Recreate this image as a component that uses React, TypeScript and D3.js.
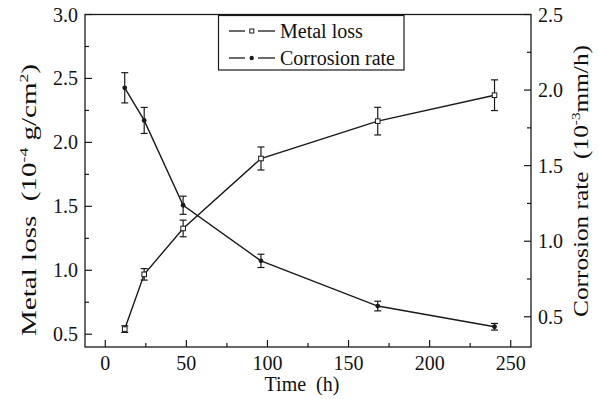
import React from "react";
import * as d3 from "d3";

const times = [12, 24, 48, 96, 168, 240];
const metalLoss = [0.54, 0.968, 1.327, 1.874, 2.166, 2.369];
const metalLossErr = [0.026, 0.045, 0.065, 0.09, 0.108, 0.12];
const corrosionRate = [2.015, 1.799, 1.238, 0.87, 0.571, 0.434];
const corrosionErr = [0.1, 0.086, 0.06, 0.044, 0.032, 0.022];

const xTicks = [0, 50, 100, 150, 200, 250];
const xMinor = [25, 75, 125, 175, 225];
const leftTicks = [0.5, 1.0, 1.5, 2.0, 2.5, 3.0];
const leftMinor = [0.75, 1.25, 1.75, 2.25, 2.75];
const rightTicks = [0.5, 1.0, 1.5, 2.0, 2.5];
const rightMinor = [0.75, 1.25, 1.75, 2.25];
const legendLabels = ["Metal loss", "Corrosion rate"];

const FONT = "'Liberation Serif', 'Times New Roman', serif";

export default function App() {
  const W = 599, H = 399;
  const L = 85, R = 531, T = 14.5, B = 347;
  const x = d3.scaleLinear().domain([-12.5, 262.5]).range([L, R]);
  const yL = d3.scaleLinear().domain([0.4, 3.0]).range([B, T]);
  const yR = d3.scaleLinear().domain([0.3, 2.5]).range([B, T]);

  const lineL = d3.line<number>().x((_, i) => x(times[i])).y((d) => yL(d));
  const lineR = d3.line<number>().x((_, i) => x(times[i])).y((d) => yR(d));

  const stroke = "#1a1a1a";
  const cap = 3.5;
  const fs = 20;

  return (
    <svg width={W} height={H} style={{ position: "absolute", left: 0, top: 0, background: "#fff" }} fontFamily={FONT}>
      <rect x={0} y={0} width={W} height={H} fill="#fff" />
      {/* frame */}
      <rect x={L} y={T} width={R - L} height={B - T} fill="none" stroke={stroke} strokeWidth={1.3} />

      {/* bottom ticks */}
      {xTicks.map((t) => (
        <g key={"xt" + t}>
          <line x1={x(t)} x2={x(t)} y1={B} y2={B - 7} stroke={stroke} strokeWidth={1.2} />
          <text x={x(t)} y={370} fontSize={fs} textAnchor="middle" fill="#111">{t}</text>
        </g>
      ))}
      {xMinor.map((t) => (
        <line key={"xm" + t} x1={x(t)} x2={x(t)} y1={B} y2={B - 4} stroke={stroke} strokeWidth={1.2} />
      ))}

      {/* left ticks */}
      {leftTicks.map((t) => (
        <g key={"lt" + t}>
          <line x1={L} x2={L + 7} y1={yL(t)} y2={yL(t)} stroke={stroke} strokeWidth={1.2} />
          <text x={78} y={yL(t) + 7} fontSize={fs} textAnchor="end" fill="#111">{t.toFixed(1)}</text>
        </g>
      ))}
      {leftMinor.map((t) => (
        <line key={"lm" + t} x1={L} x2={L + 4} y1={yL(t)} y2={yL(t)} stroke={stroke} strokeWidth={1.2} />
      ))}

      {/* right ticks */}
      {rightTicks.map((t) => (
        <g key={"rt" + t}>
          <line x1={R} x2={R - 7} y1={yR(t)} y2={yR(t)} stroke={stroke} strokeWidth={1.2} />
          <text x={538} y={yR(t) + 7} fontSize={fs} textAnchor="start" fill="#111">{t.toFixed(1)}</text>
        </g>
      ))}
      {rightMinor.map((t) => (
        <line key={"rm" + t} x1={R} x2={R - 4} y1={yR(t)} y2={yR(t)} stroke={stroke} strokeWidth={1.2} />
      ))}

      {/* axis titles */}
      <text x={302} y={391} fontSize={fs} textAnchor="middle" fill="#111" xmlSpace="preserve">Time  (h)</text>
      <text transform={`translate(36, 200) rotate(-90)`} fontSize={fs} textAnchor="middle" fill="#111" xmlSpace="preserve" textLength={272} lengthAdjust="spacingAndGlyphs">
        Metal loss  (10<tspan dy={-8} fontSize={12}>-4</tspan><tspan dy={8}> g/cm</tspan><tspan dy={-8} fontSize={12}>2</tspan><tspan dy={8}>)</tspan>
      </text>
      <text transform={`translate(588, 181) rotate(-90)`} fontSize={fs} textAnchor="middle" fill="#111" xmlSpace="preserve" textLength={272} lengthAdjust="spacingAndGlyphs">
        Corrosion rate  (10<tspan dy={-8} fontSize={12}>-3</tspan><tspan dy={8}>mm/h)</tspan>
      </text>

      {/* series lines */}
      <path d={lineL(metalLoss) || ""} fill="none" stroke={stroke} strokeWidth={1.4} />
      <path d={lineR(corrosionRate) || ""} fill="none" stroke={stroke} strokeWidth={1.4} />

      {/* error bars */}
      {metalLoss.map((v, i) => {
        const cx = x(times[i]);
        const y1 = yL(v - metalLossErr[i]);
        const y2 = yL(v + metalLossErr[i]);
        return (
          <g key={"me" + i} stroke={stroke} strokeWidth={1.2}>
            <line x1={cx} x2={cx} y1={y1} y2={y2} />
            <line x1={cx - cap} x2={cx + cap} y1={y1} y2={y1} />
            <line x1={cx - cap} x2={cx + cap} y1={y2} y2={y2} />
          </g>
        );
      })}
      {corrosionRate.map((v, i) => {
        const cx = x(times[i]);
        const y1 = yR(v - corrosionErr[i]);
        const y2 = yR(v + corrosionErr[i]);
        return (
          <g key={"ce" + i} stroke={stroke} strokeWidth={1.2}>
            <line x1={cx} x2={cx} y1={y1} y2={y2} />
            <line x1={cx - cap} x2={cx + cap} y1={y1} y2={y1} />
            <line x1={cx - cap} x2={cx + cap} y1={y2} y2={y2} />
          </g>
        );
      })}

      {/* markers */}
      {metalLoss.map((v, i) => (
        <rect key={"mm" + i} x={x(times[i]) - 2.3} y={yL(v) - 2.3} width={4.6} height={4.6} fill="#fff" stroke={stroke} strokeWidth={1} />
      ))}
      {corrosionRate.map((v, i) => (
        <circle key={"cm" + i} cx={x(times[i])} cy={yR(v)} r={2.4} fill={stroke} />
      ))}

      {/* legend */}
      <rect x={218.5} y={15.5} width={185.5} height={54.5} fill="#fff" stroke={stroke} strokeWidth={1.2} />
      {legendLabels.map((lab, i) => {
        const cy = 31 + i * 27;
        return (
          <g key={"lg" + i}>
            <line x1={229} x2={245} y1={cy} y2={cy} stroke={stroke} strokeWidth={1.3} />
            <line x1={258} x2={275} y1={cy} y2={cy} stroke={stroke} strokeWidth={1.3} />
            {i === 0 ? (
              <rect x={249.8} y={cy - 2} width={4} height={4} fill="#fff" stroke={stroke} strokeWidth={1} />
            ) : (
              <circle cx={251.7} cy={cy} r={2.2} fill={stroke} />
            )}
            <text x={280} y={cy + 6.5} fontSize={fs} fill="#111">{lab}</text>
          </g>
        );
      })}
    </svg>
  );
}
